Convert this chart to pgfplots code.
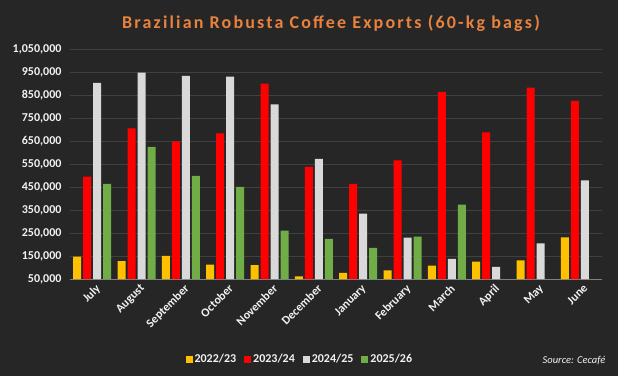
\documentclass[border=0pt]{standalone}
\usepackage{pgfplots}
\pgfplotsset{compat=1.18}
\usepackage{fontspec}
\setmainfont{Carlito}
\newfontfamily\titlefont[LetterSpace=12]{Carlito}
\definecolor{bg}{HTML}{262626}
\definecolor{gridc}{HTML}{404040}
\definecolor{axc}{HTML}{808080}
\definecolor{txt}{HTML}{F2F2F2}
\definecolor{titleor}{HTML}{E8823E}
\definecolor{cyel}{HTML}{FFC000}
\definecolor{cred}{HTML}{FF0000}
\definecolor{cgray}{HTML}{D9D9D9}
\definecolor{cgreen}{HTML}{70AD47}
\begin{document}
\begin{tikzpicture}[x=1pt,y=1pt]
\fill[bg] (0,0) rectangle (618,376);
\begin{axis}[
  at={(70pt,97pt)}, anchor=south west,
  width=532pt, height=230pt, scale only axis,
  ybar=2pt, bar width=8pt,
  xmin=-0.5, xmax=11.5,
  ymin=50000, ymax=1050000,
  ytick={50000,150000,...,1050000},
  scaled y ticks=false,
  yticklabel style={xshift=-5pt, /pgf/number format/.cd, fixed, precision=0, 1000 sep={,}, assume math mode=true},
  yticklabel={\pgfmathprintnumber{\tick}},
  xtick={0,...,11},
  xticklabels={July,August,September,October,November,December,January,February,March,April,May,June},
  xticklabel style={rotate=45, anchor=north east, inner sep=1pt, xshift=0pt, yshift=-4pt},
  tick label style={font=\bfseries\fontsize{12}{14}\selectfont, text=txt},
  major tick length=0pt,
  ymajorgrids, grid style={gridc, line width=1pt},
  axis line style={draw=none},
  axis x line*=bottom,
  x axis line style={draw=axc, line width=1pt},
  y axis line style={draw=none},
  legend columns=4,
  legend style={at={(0.432,-0.35)}, anchor=center, draw=none, fill=none,
    font=\bfseries\fontsize{12}{14}\selectfont, text=txt,
    /tikz/every even column/.append style={column sep=6pt}},
  legend image code/.code={\fill[#1] (0pt,-3.5pt) rectangle (7pt,3.5pt);},
]
\addplot[fill=cyel, draw=none] coordinates {(0,147000) (1,128000) (2,151000) (3,112000) (4,110000) (5,61000) (6,77000) (7,87000) (8,108000) (9,126000) (10,131000) (11,231000)};
\addplot[fill=cred, draw=none] coordinates {(0,495000) (1,705000) (2,648000) (3,683000) (4,899000) (5,538000) (6,464000) (7,566000) (8,864000) (9,687000) (10,882000) (11,825000)};
\addplot[fill=cgray, draw=none] coordinates {(0,903000) (1,947000) (2,933000) (3,930000) (4,809000) (5,572000) (6,334000) (7,230000) (8,138000) (9,103000) (10,205000) (11,479000)};
\addplot[fill=cgreen, draw=none] coordinates {(0,464000) (1,625000) (2,498000) (3,451000) (4,260000) (5,225000) (6,185000) (7,234000) (8,373000)};
\legend{2022/23,2023/24,2024/25,2025/26}
\end{axis}
\node[text=titleor, font=\titlefont\bfseries\fontsize{18}{20}\selectfont] at (331,353) {Brazilian Robusta Coffee Exports (60-kg bags)};
\node[text=txt, font=\itshape\fontsize{10.5}{12}\selectfont] at (574,15) {Source: Cecafé};
\end{tikzpicture}
\end{document}
